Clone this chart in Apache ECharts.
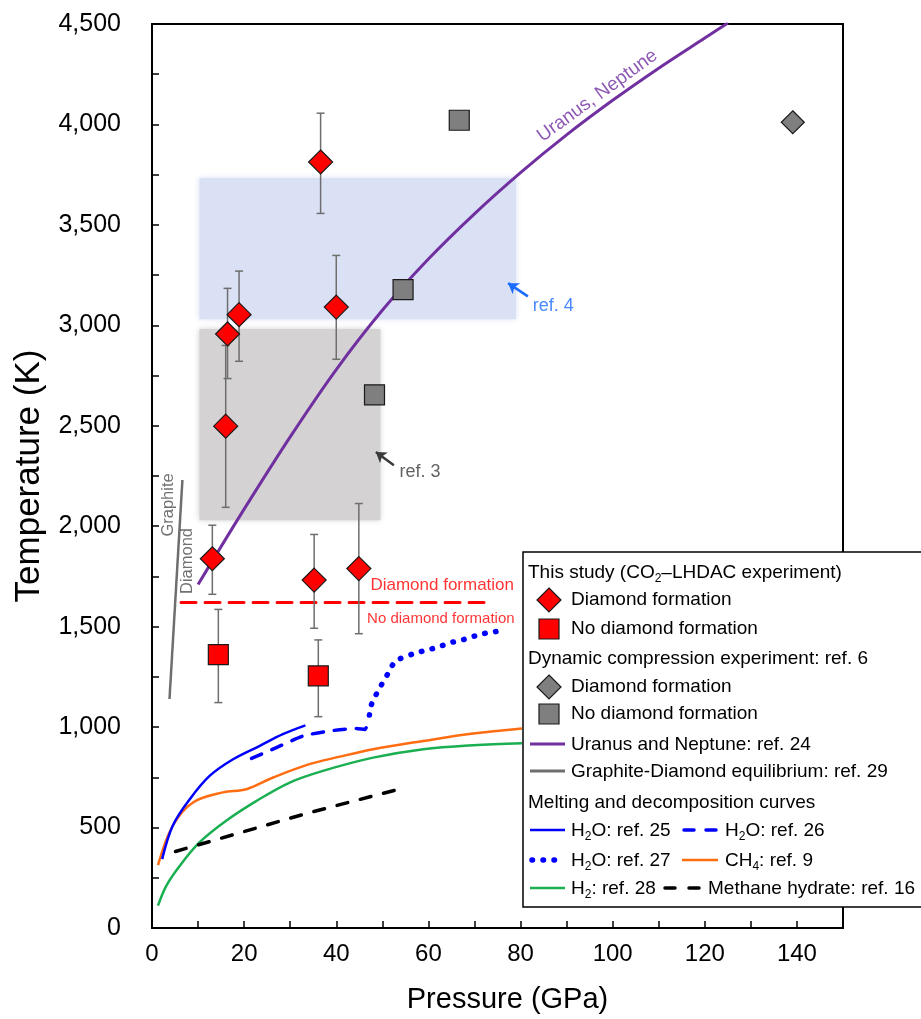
<!DOCTYPE html>
<html>
<head>
<meta charset="utf-8">
<title>Diamond formation P-T diagram</title>
<script src="https://cdn.jsdelivr.net/npm/echarts@6/dist/echarts.min.js"></script>
<style>
	html, body { margin: 0; padding: 0; background: #fff; }
	#Main { width: 921px; height: 1019px; }
</style>
</head>
<body>
<div id="Main"></div>
<script>
//坐标轴刻度
var xTicks = [0, 20, 40, 60, 80, 100, 120, 140];
var yTicks = [0, 500, 1000, 1500, 2000, 2500, 3000, 3500, 4000, 4500];

//This study: [P, T, Tlow, Thigh]
var studyDiamond = [
	[13.1, 1838, 1661, 2005],
	[16.0, 2498, 2094, 2900],
	[16.4, 2957, 2735, 3184],
	[18.9, 3053, 2821, 3270],
	[35.2, 1732, 1492, 1959],
	[36.6, 3813, 3557, 4056],
	[40.0, 3091, 2831, 3348],
	[44.9, 1789, 1465, 2113]
];
var studyNoDiamond = [
	[14.4, 1361, 1122, 1586],
	[36.1, 1255, 1052, 1434]
];
//Dynamic compression ref. 6
var dynDiamond = [[139.1, 4011]];
var dynNoDiamond = [[66.7, 4021], [54.5, 3178], [48.3, 2654]];

//curves
var uranusNeptune = [[10, 1710], [20, 2085], [30, 2445], [40, 2780], [50, 3075], [60, 3330], [70, 3555], [80, 3760], [90, 3948], [100, 4120], [110, 4280], [120, 4430], [125, 4505]];
var graphiteDiamond = [[3.8, 1140], [6.6, 2230]];
var h2oRef25 = [[2.2, 343], [4.5, 509], [8.2, 641], [12.5, 757], [17.6, 840], [23.4, 907], [28.4, 965], [33.3, 1009]];
var h2oRef26 = [[21.6, 844], [27, 898], [32.8, 956], [38.6, 981], [44.4, 993], [46.2, 988], [46.8, 1014]];
var h2oRef27 = [[47.2, 1060], [47.6, 1110], [48.6, 1160], [49.8, 1210], [51.3, 1270], [52.4, 1315], [53.8, 1340], [57.4, 1370], [60, 1385], [62.3, 1400], [64.7, 1420], [67.1, 1432], [69.4, 1449], [71.9, 1465], [74.5, 1475], [76.8, 1482]];
var ch4Ref9 = [[1.3, 313], [4.5, 509], [8.9, 625], [15.4, 675], [20.5, 691], [26.3, 749], [33.5, 811], [40.8, 853], [48, 890], [58.9, 931], [69.7, 968], [80.3, 993]];
var h2Ref28 = [[1.3, 111], [3.1, 210], [6, 309], [10.3, 426], [16.1, 534], [22.7, 633], [29.9, 724], [37.1, 782], [48, 848], [58.9, 890], [69.7, 910], [80.3, 920]];
var methaneHydrate = [[5.1, 381], [33.5, 570], [53.1, 688]];
var formationBoundary = [[6.3, 1620], [72.6, 1620]];

//shaded ranges [[P1, T1], [P2, T2]]
var ref4Range = [[10.3, 3030], [79, 3733]];
var ref3Range = [[10.3, 2030], [49.6, 2982]];

//annotations
var annoArrows = [
	{ from: [52.5, 2304], to: [48.6, 2369], color: '#3a3a3a' },
	{ from: [81.6, 3144], to: [77.3, 3210], color: '#1a6cff' }
];
var annoTexts = [
	{ text: 'Diamond formation', at: [63, 1706], color: '#ff0000', size: 17, rotate: 0 },
	{ text: 'No diamond formation', at: [62.7, 1540], color: '#ff0000', size: 15, rotate: 0 },
	{ text: 'ref. 3', at: [58.2, 2268], color: '#3a3a3a', size: 18, rotate: 0 },
	{ text: 'ref. 4', at: [87.1, 3094], color: '#1a6cff', size: 18, rotate: 0 },
	{ text: 'Graphite', at: [3.65, 2106], color: '#4d4d4d', size: 16.5, rotate: 90 },
	{ text: 'Diamond', at: [7.8, 1827], color: '#4d4d4d', size: 16.5, rotate: 90 },
	{ text: 'Uranus, Neptune', at: [96.7, 4143], color: '#7030a0', size: 19, rotate: 36 }
];

var FONT = '"Liberation Sans", Arial, Helvetica, sans-serif';

function fmtThousands(v) {
	return String(v).replace(/\B(?=(\d{3})+(?!\d))/g, ',');
}

//误差线
function errorBarSeries(list) {
	var d = [];
	for (var i = 0; i < list.length; i++) {
		d.push([list[i][0], list[i][2], list[i][3]]);
	}
	return {
		type: 'custom',
		z: 4,
		silent: true,
		data: d,
		renderItem: function(params, api) {
			var lo = api.coord([api.value(0), api.value(1)]);
			var hi = api.coord([api.value(0), api.value(2)]);
			var w = 4;
			var st = { stroke: '#6e6e6e', lineWidth: 1.5 };
			return {
				type: 'group',
				children: [
					{ type: 'line', shape: { x1: lo[0], y1: lo[1], x2: hi[0], y2: hi[1] }, style: st },
					{ type: 'line', shape: { x1: lo[0] - w, y1: lo[1], x2: lo[0] + w, y2: lo[1] }, style: st },
					{ type: 'line', shape: { x1: hi[0] - w, y1: hi[1], x2: hi[0] + w, y2: hi[1] }, style: st }
				]
			};
		}
	};
}

function curve(data, color, width, type, smooth) {
	return {
		type: 'line',
		z: 3,
		silent: true,
		data: data,
		showSymbol: false,
		symbol: 'none',
		smooth: smooth,
		lineStyle: { color: color, width: width, type: type, cap: type === 'solid' ? 'butt' : 'round' }
	};
}

function pick(list) {
	var d = [];
	for (var i = 0; i < list.length; i++) d.push([list[i][0], list[i][1]]);
	return d;
}

//图例（自绘）
function buildLegend() {
	var lx = 523, ly = 552;
	var els = [];
	els.push({
		type: 'rect', z: 100,
		shape: { x: lx, y: ly, width: 420, height: 355 },
		style: { fill: '#fff', stroke: '#000', lineWidth: 1.5 }
	});
	var rich = {
		n: { fontSize: 19, fontFamily: FONT, color: '#111', lineHeight: 24 },
		s: { fontSize: 12, fontFamily: FONT, color: '#111', verticalAlign: 'bottom', lineHeight: 24 }
	};
	function txt(x, y, t) {
		els.push({
			type: 'text', z: 101, x: x, y: y,
			style: { text: t, rich: rich, verticalAlign: 'middle', align: 'left' }
		});
	}
	function seg(x1, x2, y, color, width, dash) {
		els.push({
			type: 'line', z: 101,
			shape: { x1: x1, y1: y, x2: x2, y2: y },
			style: { stroke: color, lineWidth: width, lineDash: dash || null, lineCap: dash ? 'round' : 'butt' }
		});
	}
	function diamond(cx, cy, r, fill) {
		els.push({
			type: 'polygon', z: 101,
			shape: { points: [[cx, cy - r], [cx + r, cy], [cx, cy + r], [cx - r, cy]] },
			style: { fill: fill, stroke: '#1a1a1a', lineWidth: 1.2 }
		});
	}
	function square(cx, cy, r, fill) {
		els.push({
			type: 'rect', z: 101,
			shape: { x: cx - r, y: cy - r, width: 2 * r, height: 2 * r },
			style: { fill: fill, stroke: '#1a1a1a', lineWidth: 1.2 }
		});
	}
	var tx = lx + 5, ix = lx + 48, sx = lx + 26;
	txt(tx, ly + 21, '{n|This study (CO}{s|2}{n|–LHDAC experiment)}');
	diamond(sx, ly + 48, 12, '#ff0000');
	txt(ix, ly + 48, '{n|Diamond formation}');
	square(sx, ly + 77, 10, '#ff0000');
	txt(ix, ly + 77, '{n|No diamond formation}');
	txt(tx, ly + 107, '{n|Dynamic compression experiment: ref. 6}');
	diamond(sx, ly + 135, 12, '#7f7f7f');
	txt(ix, ly + 135, '{n|Diamond formation}');
	square(sx, ly + 162, 10, '#7f7f7f');
	txt(ix, ly + 162, '{n|No diamond formation}');
	seg(lx + 7, lx + 42, ly + 192, '#7030a0', 3);
	txt(ix, ly + 193, '{n|Uranus and Neptune: ref. 24}');
	seg(lx + 7, lx + 42, ly + 219, '#6e6e6e', 3);
	txt(ix, ly + 220, '{n|Graphite-Diamond equilibrium: ref. 29}');
	txt(tx, ly + 251, '{n|Melting and decomposition curves}');
	seg(lx + 7, lx + 42, ly + 278, '#0000ff', 2.5);
	txt(ix, ly + 279, '{n|H}{s|2}{n|O: ref. 25}');
	seg(lx + 161, lx + 195, ly + 278, '#0000ff', 3.5, [10, 12]);
	txt(lx + 202, ly + 279, '{n|H}{s|2}{n|O: ref. 26}');
	seg(lx + 9, lx + 40, ly + 308, '#0000ff', 5.5, [0.5, 10.5]);
	txt(ix, ly + 309, '{n|H}{s|2}{n|O: ref. 27}');
	seg(lx + 159, lx + 195, ly + 308, '#ff6d12', 2.5);
	txt(lx + 202, ly + 309, '{n|CH}{s|4}{n|: ref. 9}');
	seg(lx + 7, lx + 42, ly + 336, '#1aaf50', 2.5);
	txt(ix, ly + 337, '{n|H}{s|2}{n|: ref. 28}');
	seg(lx + 142, lx + 177, ly + 336, '#000', 3.5, [10, 14]);
	txt(lx + 185, ly + 337, '{n|Methane hydrate: ref. 16}');
	return els;
}

var myChart = echarts.init(document.getElementById('Main'));

var labelData = [];
for (var i = 0; i < annoTexts.length; i++) {
	var a = annoTexts[i];
	labelData.push({
		value: a.at,
		label: { show: true, position: 'inside', formatter: a.text, color: a.color, fontSize: a.size, rotate: a.rotate, fontFamily: FONT }
	});
}
var arrowData = [];
for (var j = 0; j < annoArrows.length; j++) {
	arrowData.push({ coords: [annoArrows[j].from, annoArrows[j].to], lineStyle: { color: annoArrows[j].color } });
}

myChart.setOption({
	animation: false,
	textStyle: { fontFamily: FONT },
	grid: { left: 152, right: 78, top: 24, bottom: 90, show: true, borderColor: '#000', borderWidth: 2, backgroundColor: 'transparent' },
	xAxis: {
		type: 'value', min: 0, max: 150, interval: 10,
		name: 'Pressure (GPa)', nameLocation: 'middle', nameGap: 57,
		nameTextStyle: { fontSize: 29, color: '#000', padding: [0, 0, 0, 20] },
		axisLine: { lineStyle: { color: '#000', width: 2 } },
		axisTick: { inside: true, length: 7, lineStyle: { color: '#000', width: 1.5 } },
		axisLabel: {
			fontSize: 24, color: '#000', margin: 14,
			formatter: function(v) { return xTicks.indexOf(v) >= 0 ? String(v) : ''; }
		},
		splitLine: { show: false }
	},
	yAxis: {
		type: 'value', min: 0, max: 4500, interval: 250,
		name: 'Temperature (K)', nameLocation: 'middle', nameGap: 105,
		nameTextStyle: { fontSize: 35, color: '#000' },
		axisLine: { show: true, lineStyle: { color: '#000', width: 2 } },
		axisTick: { show: true, inside: true, length: 7, lineStyle: { color: '#000', width: 1.5 } },
		axisLabel: {
			fontSize: 25, color: '#000', margin: 31,
			formatter: function(v) { return yTicks.indexOf(v) >= 0 ? fmtThousands(v) : ''; }
		},
		splitLine: { show: false }
	},
	series: [
		{
			type: 'line', z: 1, silent: true, data: [],
			markArea: {
				silent: true,
				data: [
					[{ coord: ref4Range[0], itemStyle: { color: '#dbe1f5', shadowBlur: 6, shadowColor: '#dbe1f5' } }, { coord: ref4Range[1] }],
					[{ coord: ref3Range[0], itemStyle: { color: '#d4d2d3', shadowBlur: 6, shadowColor: '#d4d2d3' } }, { coord: ref3Range[1] }]
				]
			}
		},
		curve(graphiteDiamond, '#6e6e6e', 2.5, 'solid', false),
		curve(h2Ref28, '#1aaf50', 2.5, 'solid', 0.35),
		curve(ch4Ref9, '#ff6d12', 2.5, 'solid', 0.35),
		curve(h2oRef25, '#0000ff', 2.5, 'solid', 0.35),
		curve(h2oRef26, '#0000ff', 3.5, [11, 11], 0.2),
		curve(h2oRef27, '#0000ff', 5.5, [0.5, 10.5], 0.2),
		curve(methaneHydrate, '#000', 3.5, [11, 13], false),
		curve(uranusNeptune, '#7030a0', 3, 'solid', 0.3),
		curve(formationBoundary, '#ff0000', 3, [15, 9], false),
		errorBarSeries(studyDiamond),
		errorBarSeries(studyNoDiamond),
		{
			name: 'This study: Diamond formation', type: 'scatter', z: 5,
			symbol: 'diamond', symbolSize: 24, data: pick(studyDiamond),
			itemStyle: { color: '#ff0000', borderColor: '#1a1a1a', borderWidth: 1.2, opacity: 1 }
		},
		{
			name: 'This study: No diamond formation', type: 'scatter', z: 5,
			symbol: 'rect', symbolSize: 20, data: pick(studyNoDiamond),
			itemStyle: { color: '#ff0000', borderColor: '#1a1a1a', borderWidth: 1.2, opacity: 1 }
		},
		{
			name: 'ref. 6: Diamond formation', type: 'scatter', z: 5,
			symbol: 'diamond', symbolSize: 23, data: dynDiamond,
			itemStyle: { color: '#7f7f7f', borderColor: '#1a1a1a', borderWidth: 1.2, opacity: 1 }
		},
		{
			name: 'ref. 6: No diamond formation', type: 'scatter', z: 5,
			symbol: 'rect', symbolSize: 20, data: dynNoDiamond,
			itemStyle: { color: '#7f7f7f', borderColor: '#1a1a1a', borderWidth: 1.2, opacity: 1 }
		},
		{
			type: 'lines', coordinateSystem: 'cartesian2d', z: 6, silent: true,
			symbol: ['none', 'arrow'], symbolSize: 10,
			lineStyle: { width: 2.5, opacity: 1 },
			data: arrowData
		},
		{
			type: 'scatter', z: 6, silent: true,
			symbolSize: 0.1, itemStyle: { color: 'transparent' },
			data: labelData
		}
	],
	graphic: buildLegend()
});
</script>
</body>
</html>
